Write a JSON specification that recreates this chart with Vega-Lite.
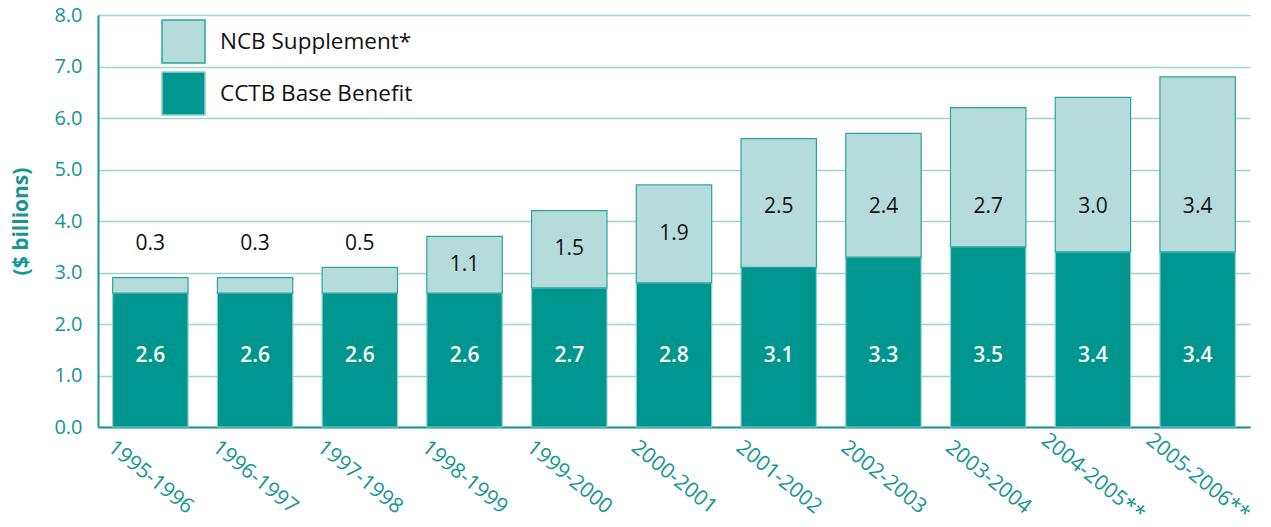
{
  "$schema": "https://vega.github.io/schema/vega-lite/v6.json",
  "width": 1152,
  "height": 412,
  "autosize": {"type": "none"},
  "padding": {"left": 98, "top": 15, "right": 21, "bottom": 100},
  "background": "white",
  "config": {
    "font": "Open Sans",
    "view": {"stroke": null}
  },
  "data": {
    "values": [
      {"year": "1995-1996", "base": 2.6, "ncb": 0.3},
      {"year": "1996-1997", "base": 2.6, "ncb": 0.3},
      {"year": "1997-1998", "base": 2.6, "ncb": 0.5},
      {"year": "1998-1999", "base": 2.6, "ncb": 1.1},
      {"year": "1999-2000", "base": 2.7, "ncb": 1.5},
      {"year": "2000-2001", "base": 2.8, "ncb": 1.9},
      {"year": "2001-2002", "base": 3.1, "ncb": 2.5},
      {"year": "2002-2003", "base": 3.3, "ncb": 2.4},
      {"year": "2003-2004", "base": 3.5, "ncb": 2.7},
      {"year": "2004-2005**", "base": 3.4, "ncb": 3.0},
      {"year": "2005-2006**", "base": 3.4, "ncb": 3.4}
    ]
  },
  "encoding": {
    "x": {
      "field": "year",
      "type": "nominal",
      "sort": null,
      "scale": {"paddingInner": 0.28, "paddingOuter": 0.14},
      "axis": {
        "title": null,
        "labelAngle": 39,
        "labelAlign": "center",
        "labelBaseline": "middle",
        "labelPadding": 50,
        "labelFontSize": 21,
        "labelColor": "#16968f",
        "labelLimit": 300,
        "ticks": false,
        "domainColor": "#16968f",
        "domainWidth": 2,
        "grid": false
      }
    }
  },
  "layer": [
    {
      "transform": [{"fold": ["base", "ncb"], "as": ["series", "value"]}],
      "mark": {"type": "bar", "strokeWidth": 1.2},
      "encoding": {
        "y": {
          "field": "value",
          "type": "quantitative",
          "stack": "zero",
          "scale": {"domain": [0, 8]},
          "axis": {
            "title": "($ billions)",
            "titleColor": "#16968f",
            "titleFontSize": 21,
            "titleFontWeight": "bold",
            "titlePadding": 22,
            "format": ".1f",
            "values": [0, 1, 2, 3, 4, 5, 6, 7, 8],
            "labelFontSize": 20,
            "labelColor": "#16968f",
            "labelPadding": 16,
            "ticks": false,
            "domainColor": "#16968f",
            "domainWidth": 2,
            "gridColor": "#9fd5d0",
            "gridWidth": 1.5
          }
        },
        "color": {
          "field": "series",
          "type": "nominal",
          "scale": {"domain": ["ncb", "base"], "range": ["#b5dcdb", "#009690"]},
          "legend": {
            "title": null,
            "orient": "none",
            "legendX": 63,
            "legendY": 4,
            "symbolType": "square",
            "symbolSize": 1850,
            "symbolStrokeColor": "#2aa59d",
            "symbolStrokeWidth": 1.5,
            "labelExpr": "datum.label == 'ncb' ? 'NCB Supplement*' : 'CCTB Base Benefit'",
            "labelFontSize": 22.5,
            "labelFontWeight": 500,
            "labelColor": "#111111",
            "labelOffset": 14,
            "labelLimit": 400,
            "labelBaseline": "middle",
            "rowPadding": 1,
            "symbolOffset": 0
          }
        },
        "stroke": {
          "field": "series",
          "type": "nominal",
          "scale": {"domain": ["ncb", "base"], "range": ["#2aa59d", "#8fcfca"]},
          "legend": null
        },
        "order": {"field": "series", "sort": "ascending"}
      }
    },
    {
      "mark": {"type": "text", "fontSize": 21, "color": "white", "fontWeight": 600, "baseline": "middle"},
      "encoding": {
        "y": {"datum": 1.38},
        "text": {"field": "base", "type": "quantitative", "format": ".1f"}
      }
    },
    {
      "transform": [{"filter": "datum.ncb < 1"}],
      "mark": {"type": "text", "fontSize": 21, "color": "#111111", "baseline": "middle"},
      "encoding": {
        "y": {"datum": 3.55},
        "text": {"field": "ncb", "type": "quantitative", "format": ".1f"}
      }
    },
    {
      "transform": [
        {"filter": "datum.ncb >= 1 && datum.ncb < 2"},
        {"calculate": "datum.base + datum.ncb / 2", "as": "labelY"}
      ],
      "mark": {"type": "text", "fontSize": 21, "color": "#111111", "baseline": "middle"},
      "encoding": {
        "y": {"field": "labelY", "type": "quantitative"},
        "text": {"field": "ncb", "type": "quantitative", "format": ".1f"}
      }
    },
    {
      "transform": [{"filter": "datum.ncb >= 2"}],
      "mark": {"type": "text", "fontSize": 21, "color": "#111111", "baseline": "middle"},
      "encoding": {
        "y": {"datum": 4.27},
        "text": {"field": "ncb", "type": "quantitative", "format": ".1f"}
      }
    }
  ]
}
